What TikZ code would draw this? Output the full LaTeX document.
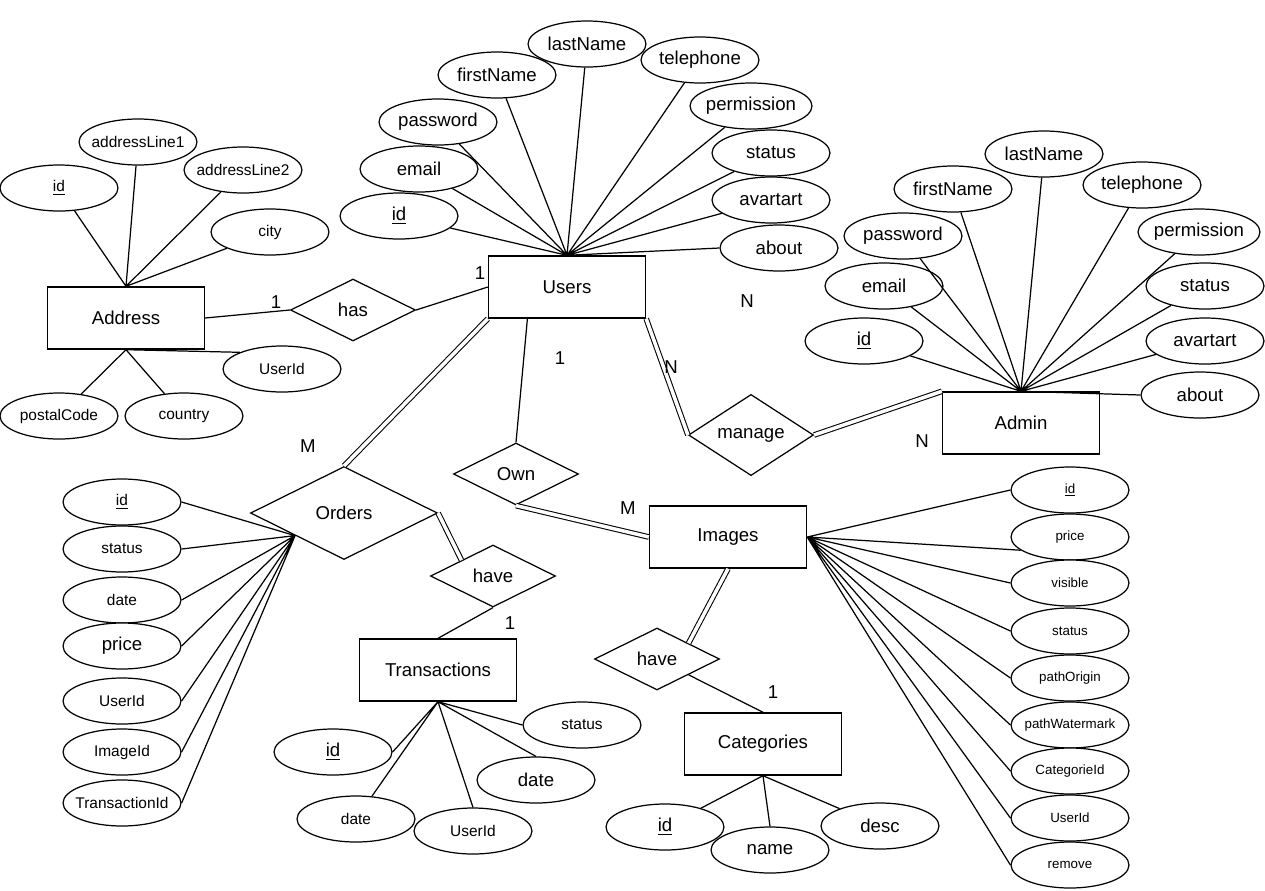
\documentclass[tikz,border=0pt]{standalone}
\usepackage{fontspec}
\setmainfont{Liberation Sans}
\usetikzlibrary{shapes.geometric,calc}
\newcommand{\bigattr}{\fontsize{10.6}{12}\selectfont}
\newcommand{\smallattr}{\fontsize{8.8}{10}\selectfont}
\newcommand{\tinyattr}{\fontsize{7.6}{9}\selectfont}
\tikzstyle{entity} = [rectangle, draw, line width=0.8pt, minimum width=3.14cm, minimum height=1.24cm, inner sep=0pt, fill=white, font=\bigattr]
\tikzstyle{attribute} = [ellipse, draw, line width=0.7pt, minimum width=2.36cm, minimum height=0.92cm, inner ysep=0pt, inner xsep=-8pt, fill=white, font=\bigattr]
\tikzstyle{relation} = [diamond, draw, line width=0.7pt, minimum width=2.5cm, minimum height=1.24cm, inner sep=0pt, fill=white, font=\bigattr]
\tikzstyle{card} = [inner sep=0pt, font=\bigattr]
\tikzstyle{link} = [line width=0.7pt]
\tikzstyle{total} = [line width=0.6pt, double, double distance=2pt]

\begin{document}
\begin{tikzpicture}[x=0.02cm,y=-0.02cm]
\useasboundingbox (0,0) rectangle (1265,890);

% Entities
\node[entity] (address) at (126,318) {Address};
\node[entity] (users) at (567,287) {Users};
\node[entity] (admin) at (1021,423) {Admin};
\node[entity] (images) at (728,537) {Images};
\node[entity] (transactions) at (438,670) {Transactions};
\node[entity] (categories) at (763,744) {Categories};

% Relationships
\node[relation] (has) at (353,310) {has};
\node[relation] (manage) at (751,435) {manage};
\node[relation] (own) at (516,474) {Own};
\node[relation, minimum width=3.74cm, minimum height=1.86cm] (orders) at (344,513) {Orders};
\node[relation] (havetrans) at (493,576) {have};
\node[relation] (havecat) at (657,659) {have};

% Address attributes
\node[attribute, font=\smallattr] (addrid) at (59,188) {\underline{id}};
\node[attribute, font=\smallattr] (addrline1) at (138,142) {addressLine1};
\node[attribute, font=\smallattr] (addrline2) at (243,170) {addressLine2};
\node[attribute, font=\smallattr] (addrcity) at (270,232) {city};
\node[attribute, font=\smallattr] (addruser) at (282,369) {UserId};
\node[attribute, font=\smallattr] (addrpostal) at (59,416) {postalCode};
\node[attribute, font=\smallattr] (addrcountry) at (184,416) {country};

% Users attributes
\node[attribute] (ulast) at (587,44) {lastName};
\node[attribute] (ufirst) at (497,75) {firstName};
\node[attribute] (utel) at (700,60) {telephone};
\node[attribute] (upass) at (438,122) {password};
\node[attribute, minimum width=2.44cm] (uperm) at (751,106) {permission};
\node[attribute] (uemail) at (419,169) {email};
\node[attribute] (ustatus) at (771,153) {status};
\node[attribute] (uid) at (399,216) {\underline{id}};
\node[attribute] (uavatar) at (771,200) {avartart};
\node[attribute] (uabout) at (779,248) {about};

% Admin attributes
\node[attribute] (mlast) at (1044,154) {lastName};
\node[attribute] (mfirst) at (953,189) {firstName};
\node[attribute] (mtel) at (1142,185) {telephone};
\node[attribute] (mpass) at (903,236) {password};
\node[attribute, minimum width=2.44cm] (mperm) at (1199,232) {permission};
\node[attribute] (memail) at (884,286) {email};
\node[attribute] (mstatus) at (1205,286) {status};
\node[attribute] (mid) at (864,341) {\underline{id}};
\node[attribute] (mavatar) at (1205,341) {avartart};
\node[attribute] (mabout) at (1200,395) {about};

% Orders attributes
\node[attribute, font=\smallattr] (oid) at (122,502) {\underline{id}};
\node[attribute, font=\smallattr] (ostatus) at (122,549) {status};
\node[attribute, font=\smallattr] (odate) at (122,600) {date};
\node[attribute] (oprice) at (122,646) {price};
\node[attribute, font=\smallattr] (ouser) at (122,701) {UserId};
\node[attribute, font=\smallattr] (oimage) at (122,752) {ImageId};
\node[attribute, font=\smallattr] (otrans) at (122,803) {TransactionId};
\coordinate (ordhub) at ($(orders.west)!0.48!(orders.south)$);

% Transactions attributes
\node[attribute] (tid) at (333,752) {\underline{id}};
\node[attribute, font=\smallattr] (tdate) at (356,819) {date};
\node[attribute, font=\smallattr] (tuser) at (473,831) {UserId};
\node[attribute] (tdate2) at (536,780) {date};
\node[attribute, font=\smallattr] (tstatus) at (582,725) {status};

% Images attributes
\node[attribute, font=\tinyattr] (iid) at (1070,490) {\underline{id}};
\node[attribute, font=\tinyattr] (iprice) at (1070,537) {price};
\node[attribute, font=\tinyattr] (ivisible) at (1070,583) {visible};
\node[attribute, font=\tinyattr] (istatus) at (1070,631) {status};
\node[attribute, font=\tinyattr] (iorigin) at (1070,678) {pathOrigin};
\node[attribute, font=\tinyattr] (iwater) at (1070,725) {pathWatermark};
\node[attribute, font=\tinyattr] (icat) at (1070,771) {CategorieId};
\node[attribute, font=\tinyattr] (iuser) at (1070,818) {UserId};
\node[attribute, font=\tinyattr] (iremove) at (1070,865) {remove};

% Categories attributes
\node[attribute] (cid) at (665,827) {\underline{id}};
\node[attribute] (cname) at (770,850) {name};
\node[attribute] (cdesc) at (880,826) {desc};

% Attribute links
\draw[link] (address.north) -- (addrid) (address.north) -- (addrline1)
  (address.north) -- (addrline2) (address.north) -- (addrcity)
  (address.south) -- (addruser.north west) (address.south) -- (addrpostal)
  (address.south) -- (addrcountry);
\draw[link] (users.north) -- (uid) (users.north) -- (uemail) (users.north) -- (upass)
  (users.north) -- (ufirst) (users.north) -- (ulast) (users.north) -- (utel)
  (users.north) -- (uperm) (users.north) -- (ustatus) (users.north) -- (uavatar)
  (users.north) -- (uabout.west);
\draw[link] (admin.north) -- (mid) (admin.north) -- (memail) (admin.north) -- (mpass)
  (admin.north) -- (mfirst) (admin.north) -- (mlast) (admin.north) -- (mtel)
  (admin.north) -- (mperm) (admin.north) -- (mstatus) (admin.north) -- (mavatar)
  (admin.north) -- (mabout.west);
\draw[link] (ordhub) -- (oid.east) (ordhub) -- (ostatus.east) (ordhub) -- (odate.east)
  (ordhub) -- (oprice.east) (ordhub) -- (ouser.east) (ordhub) -- (oimage.east)
  (ordhub) -- (otrans.east);
\draw[link] (transactions.south) -- (tid.east) (transactions.south) -- (tdate)
  (transactions.south) -- (tuser.north) (transactions.south) -- (tdate2.north)
  (transactions.south) -- (tstatus.west);
\draw[link] (images.east) -- (iid.west) (images.east) -- (iprice.195)
  (images.east) -- (ivisible.west) (images.east) -- (istatus.west)
  (images.east) -- (iorigin.west) (images.east) -- (iwater.west)
  (images.east) -- (icat.west) (images.east) -- (iuser.west)
  (images.east) -- (iremove.west);
\draw[link] (categories.south) -- (cid) (categories.south) -- (cname.north)
  (categories.south) -- (cdesc);

% Relationship links
\draw[link] (address.east) -- (has.west);
\draw[link] (has.east) -- (users.west);
\draw[total] (users.south west) -- (orders.north);
\draw[link] ($(users.south west)!0.25!(users.south east)$) -- (own.north);
\draw[total] (own.south) -- (images.west);
\draw[total] (users.south east) -- (manage.west);
\draw[total] (manage.east) -- (admin.north west);
\draw[total] (orders.east) -- ($(havetrans.west)!0.5!(havetrans.north)$);
\draw[link] (havetrans.south) -- (transactions.north);
\draw[total] (images.south) -- ($(havecat.north)!0.5!(havecat.east)$);
\draw[link] ($(havecat.south)!0.5!(havecat.east)$) -- (categories.north);

% Cardinalities
\node[card] (cardaddr) at (276,302) {1};
\node[card] (cardusers) at (480,273) {1};
\node[card] (cardorders) at (308,446) {M};
\node[card] (cardown) at (560,358) {1};
\node[card] (cardimages) at (628,508) {M};
\node[card] (cardmanage) at (671,367) {N};
\node[card] (cardmanage2) at (747,301) {N};
\node[card] (cardadmin) at (922,441) {N};
\node[card] (cardtrans) at (510,623) {1};
\node[card] (cardcat) at (773,692) {1};
\end{tikzpicture}
\end{document}
